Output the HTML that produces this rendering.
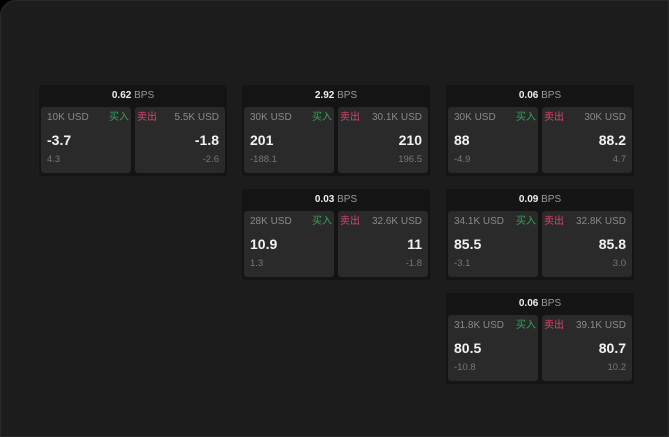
<!DOCTYPE html>
<html><head><meta charset="utf-8"><style>
body{margin:0;width:669px;height:437px;background:#000;overflow:hidden;font-family:"Liberation Sans","Noto Sans CJK SC",sans-serif}
.page{position:absolute;left:0;top:0;width:669px;height:437px;background:#1c1c1c;border-radius:16px 0 0 0;border:1px solid #2a2a2a;box-sizing:border-box}
.card{position:absolute;width:188px;height:91px;background:#141414;border-radius:3px}
.hd{position:absolute;left:0;top:0;width:100%;height:21px;line-height:21px;text-align:center;font-size:10px;color:#9a9a9a}
.hd b{color:#eee;font-weight:bold}
.box{position:absolute;top:22px;width:90px;height:66px;background:#2a2a2a;border-radius:3px}
.box span{line-height:12px}
.l{left:2px}.r{left:96px}
.t{position:absolute;top:5px;font-size:10px;color:#8a8a8a}
.v{position:absolute;top:25px;font-size:14px;line-height:16px!important;color:#f2f2f2;font-weight:bold}
.s{position:absolute;top:47px;font-size:9.5px;color:#777}
.buy{position:absolute;top:5px;right:2px;font-size:10px;color:#2fa55a}
.sell{position:absolute;top:5px;left:2px;font-size:10px;color:#d8436a}
.l .t,.l .v,.l .s{left:6px}
.r .t,.r .v,.r .s{right:6px}
</style></head><body><div class="page">
<div class="card" style="left:38px;top:84px"><div class="hd"><b>0.62</b> BPS</div>
<div class="box l"><span class="t">10K USD</span><span class="buy">买入</span><span class="v">-3.7</span><span class="s">4.3</span></div>
<div class="box r"><span class="sell">卖出</span><span class="t">5.5K USD</span><span class="v">-1.8</span><span class="s">-2.6</span></div></div>
<div class="card" style="left:241px;top:84px"><div class="hd"><b>2.92</b> BPS</div>
<div class="box l"><span class="t">30K USD</span><span class="buy">买入</span><span class="v">201</span><span class="s">-188.1</span></div>
<div class="box r"><span class="sell">卖出</span><span class="t">30.1K USD</span><span class="v">210</span><span class="s">196.5</span></div></div>
<div class="card" style="left:445px;top:84px"><div class="hd"><b>0.06</b> BPS</div>
<div class="box l"><span class="t">30K USD</span><span class="buy">买入</span><span class="v">88</span><span class="s">-4.9</span></div>
<div class="box r"><span class="sell">卖出</span><span class="t">30K USD</span><span class="v">88.2</span><span class="s">4.7</span></div></div>
<div class="card" style="left:241px;top:188px"><div class="hd"><b>0.03</b> BPS</div>
<div class="box l"><span class="t">28K USD</span><span class="buy">买入</span><span class="v">10.9</span><span class="s">1.3</span></div>
<div class="box r"><span class="sell">卖出</span><span class="t">32.6K USD</span><span class="v">11</span><span class="s">-1.8</span></div></div>
<div class="card" style="left:445px;top:188px"><div class="hd"><b>0.09</b> BPS</div>
<div class="box l"><span class="t">34.1K USD</span><span class="buy">买入</span><span class="v">85.5</span><span class="s">-3.1</span></div>
<div class="box r"><span class="sell">卖出</span><span class="t">32.8K USD</span><span class="v">85.8</span><span class="s">3.0</span></div></div>
<div class="card" style="left:445px;top:292px"><div class="hd"><b>0.06</b> BPS</div>
<div class="box l"><span class="t">31.8K USD</span><span class="buy">买入</span><span class="v">80.5</span><span class="s">-10.8</span></div>
<div class="box r"><span class="sell">卖出</span><span class="t">39.1K USD</span><span class="v">80.7</span><span class="s">10.2</span></div></div>
</div></body></html>
